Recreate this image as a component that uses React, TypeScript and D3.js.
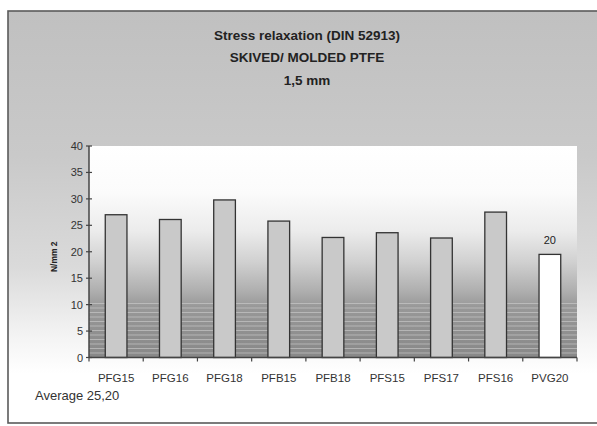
import React from "react";
import * as d3 from "d3";

const categories = ["PFG15", "PFG16", "PFG18", "PFB15", "PFB18", "PFS15", "PFS17", "PFS16", "PVG20"];
const values = [27.0, 26.1, 29.8, 25.8, 22.7, 23.6, 22.6, 27.5, 19.5];
const highlighted = ["PVG20"];
const yTicks = [0, 5, 10, 15, 20, 25, 30, 35, 40];
const titleLines = ["Stress relaxation (DIN 52913)", "SKIVED/ MOLDED PTFE", "1,5 mm"];
const yLabel = "N/mm 2";
const footnote = "Average 25,20";
const dataLabel = "20";

const W = 597;
const H = 426;
const plot = { left: 89, right: 577, top: 146, bottom: 357.5 };
const font = "'Liberation Sans', Arial, sans-serif";

export default function App() {
  const x = d3
    .scaleBand<string>()
    .domain(categories)
    .range([plot.left, plot.right])
    .paddingInner(0.6)
    .paddingOuter(0.3);
  const y = d3.scaleLinear().domain([0, 40]).range([plot.bottom, plot.top]);
  const step = x.step();
  const stripes = d3.range(plot.bottom - 54, plot.bottom, 4.5);

  return (
    <svg
      width={W}
      height={H}
      style={{ position: "absolute", left: 0, top: 0, display: "block" }}
    >
      <defs>
        <linearGradient id="outerG" x1="0" y1="0" x2="0" y2="1">
          <stop offset="0%" stopColor="#c0c0c0" />
          <stop offset="35%" stopColor="#c9c9c9" />
          <stop offset="62%" stopColor="#dadada" />
          <stop offset="80%" stopColor="#f5f5f5" />
          <stop offset="88%" stopColor="#ffffff" />
          <stop offset="100%" stopColor="#ffffff" />
        </linearGradient>
        <linearGradient id="plotG" x1="0" y1="0" x2="0" y2="1">
          <stop offset="0%" stopColor="#ffffff" />
          <stop offset="22%" stopColor="#fbfbfb" />
          <stop offset="40%" stopColor="#ececec" />
          <stop offset="55%" stopColor="#d0d0d0" />
          <stop offset="68%" stopColor="#b0b0b0" />
          <stop offset="76%" stopColor="#989898" />
          <stop offset="100%" stopColor="#888888" />
        </linearGradient>
      </defs>
      <rect x={0} y={0} width={W} height={H} fill="#ffffff" />
      <rect
        x={8}
        y={11}
        width={590}
        height={412}
        fill="url(#outerG)"
        stroke="#5a5a5a"
        strokeWidth={1.6}
      />
      {titleLines.map((t, i) => (
        <text
          key={t}
          x={307}
          y={39.5 + i * 22.5}
          textAnchor="middle"
          fontFamily={font}
          fontWeight="bold"
          fontSize={13.5}
          fill="#222"
        >
          {t}
        </text>
      ))}
      <rect
        x={plot.left}
        y={plot.top}
        width={plot.right - plot.left}
        height={plot.bottom - plot.top}
        fill="url(#plotG)"
      />
      {stripes.map((s, i) => (
        <line
          key={i}
          x1={plot.left}
          x2={plot.right}
          y1={s}
          y2={s}
          stroke="#cfcfcf"
          strokeOpacity={0.6}
          strokeWidth={1}
        />
      ))}
      {categories.map((c, i) => {
        const isHi = highlighted.includes(c);
        return (
          <rect
            key={c}
            x={x(c)}
            y={y(values[i])}
            width={x.bandwidth()}
            height={plot.bottom - y(values[i])}
            fill={isHi ? "#ffffff" : "#c9c9c9"}
            stroke="#333"
            strokeWidth={1.3}
          />
        );
      })}
      <line
        x1={plot.left}
        x2={plot.left}
        y1={plot.top}
        y2={plot.bottom}
        stroke="#444"
        strokeWidth={1.5}
      />
      <line
        x1={plot.left}
        x2={plot.right}
        y1={plot.bottom}
        y2={plot.bottom}
        stroke="#444"
        strokeWidth={1.5}
      />
      {yTicks.map((t) => (
        <g key={t}>
          <line
            x1={plot.left - 3}
            x2={plot.left + 3}
            y1={y(t)}
            y2={y(t)}
            stroke="#444"
            strokeWidth={1.2}
          />
          <text
            x={plot.left - 6}
            y={y(t) + 4}
            textAnchor="end"
            fontFamily={font}
            fontSize={11}
            fill="#333"
          >
            {t}
          </text>
        </g>
      ))}
      {d3.range(categories.length + 1).map((i) => {
        const bx = plot.left + i * step;
        return (
          <line
            key={i}
            x1={bx}
            x2={bx}
            y1={plot.bottom}
            y2={plot.bottom + 4}
            stroke="#444"
            strokeWidth={1.2}
          />
        );
      })}
      {categories.map((c) => (
        <text
          key={c}
          x={(x(c) as number) + x.bandwidth() / 2}
          y={381.5}
          textAnchor="middle"
          fontFamily={font}
          fontSize={11.5}
          fill="#333"
        >
          {c}
        </text>
      ))}
      <text
        x={(x("PVG20") as number) + x.bandwidth() / 2}
        y={y(values[8]) - 10}
        textAnchor="middle"
        fontFamily={font}
        fontSize={11}
        fill="#222"
      >
        {dataLabel}
      </text>
      <text
        transform={`translate(57,${(plot.top + plot.bottom) / 2 + 5}) rotate(-90)`}
        textAnchor="middle"
        fontFamily={font}
        fontWeight="bold"
        fontSize={8.5}
        fill="#222"
      >
        {yLabel}
      </text>
      <text x={35} y={399.5} fontFamily={font} fontSize={13} fill="#333">
        {footnote}
      </text>
    </svg>
  );
}
